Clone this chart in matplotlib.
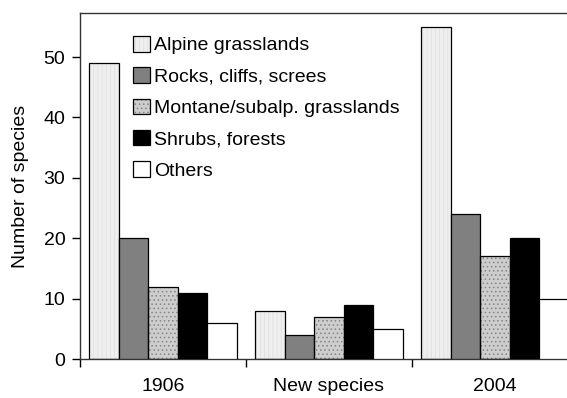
import matplotlib
matplotlib.use("Agg")
import matplotlib.pyplot as plt
from matplotlib.patches import Patch
from matplotlib.legend_handler import HandlerTuple
import numpy as np

plt.rcParams['font.family'] = ['Liberation Sans', 'DejaVu Sans']
plt.rcParams['hatch.linewidth'] = 0.6

groups = ["1906", "New species", "2004"]
habitats = ["Alpine grasslands", "Rocks, cliffs, screes", "Montane/subalp. grasslands",
            "Shrubs, forests", "Others"]
alpine = [49, 8, 55]
rocks = [20, 4, 24]
montane = [12, 7, 17]
shrubs = [11, 9, 20]
others = [6, 5, 10]
series = [alpine, rocks, montane, shrubs, others]

faces = ["#efefef", "#808080", "#cdcdcd", "#000000", "#ffffff"]
hatches = ["||||", None, "....", None, None]
hatch_cols = ["#e0e0e0", None, "#858585", None, None]

W, H = 567, 398
fig = plt.figure(figsize=(W / 100, H / 100), dpi=100)
ax = fig.add_axes([80 / W, (H - 359) / H, 498 / W, (359 - 13) / H])

bw = 0.178
off = 0.055
x0 = np.arange(len(groups))
handles = []
for i, (vals, fc, ht, hc) in enumerate(zip(series, faces, hatches, hatch_cols)):
    xs = x0 + off + i * bw
    if ht:
        ax.bar(xs, vals, width=bw, align='edge', color=fc, hatch=ht,
               edgecolor=hc, linewidth=0, zorder=2)
        ax.bar(xs, vals, width=bw, align='edge', facecolor='none',
               edgecolor='black', linewidth=0.9, zorder=3)
        h = (Patch(facecolor=fc, hatch=ht, edgecolor=hc, linewidth=0),
             Patch(facecolor='none', edgecolor='black', linewidth=0.9))
    else:
        ax.bar(xs, vals, width=bw, align='edge', color=fc,
               edgecolor='black', linewidth=0.9, zorder=3)
        h = (Patch(facecolor=fc, edgecolor='black', linewidth=0.9),)
    handles.append(h)

ax.set_xlim(0, 3)
ax.set_ylim(0, 57.3)
ax.set_yticks([0, 10, 20, 30, 40, 50])
ax.tick_params(axis='y', direction='out', length=6, width=1, labelsize=14, pad=4.5)

ax.set_xticks([0, 1, 2, 3])
ax.set_xticklabels([])
ax.set_xticks(x0 + 0.5, minor=True)
ax.set_xticklabels(groups, minor=True)
ax.tick_params(axis='x', which='major', direction='out', length=6, width=1)
ax.tick_params(axis='x', which='minor', length=0, labelsize=14, pad=14)

for s in ['left', 'bottom', 'top', 'right']:
    ax.spines[s].set_linewidth(1.0)
    ax.spines[s].set_color('#333333')

fig.text(21 / W, 1 - 186 / H, "Number of species", rotation=90,
         ha='center', va='center', fontsize=14)

leg = ax.legend(handles, habitats, handler_map={tuple: HandlerTuple(ndivide=1, pad=0)},
                loc='upper left', bbox_to_anchor=(133 / W, 1 - 36 / H),
                bbox_transform=fig.transFigure, frameon=False, fontsize=14,
                handlelength=0.85, handleheight=0.85, handletextpad=0.25,
                labelspacing=0.66, borderpad=0, borderaxespad=0)

fig.savefig("out.png", dpi=100)
